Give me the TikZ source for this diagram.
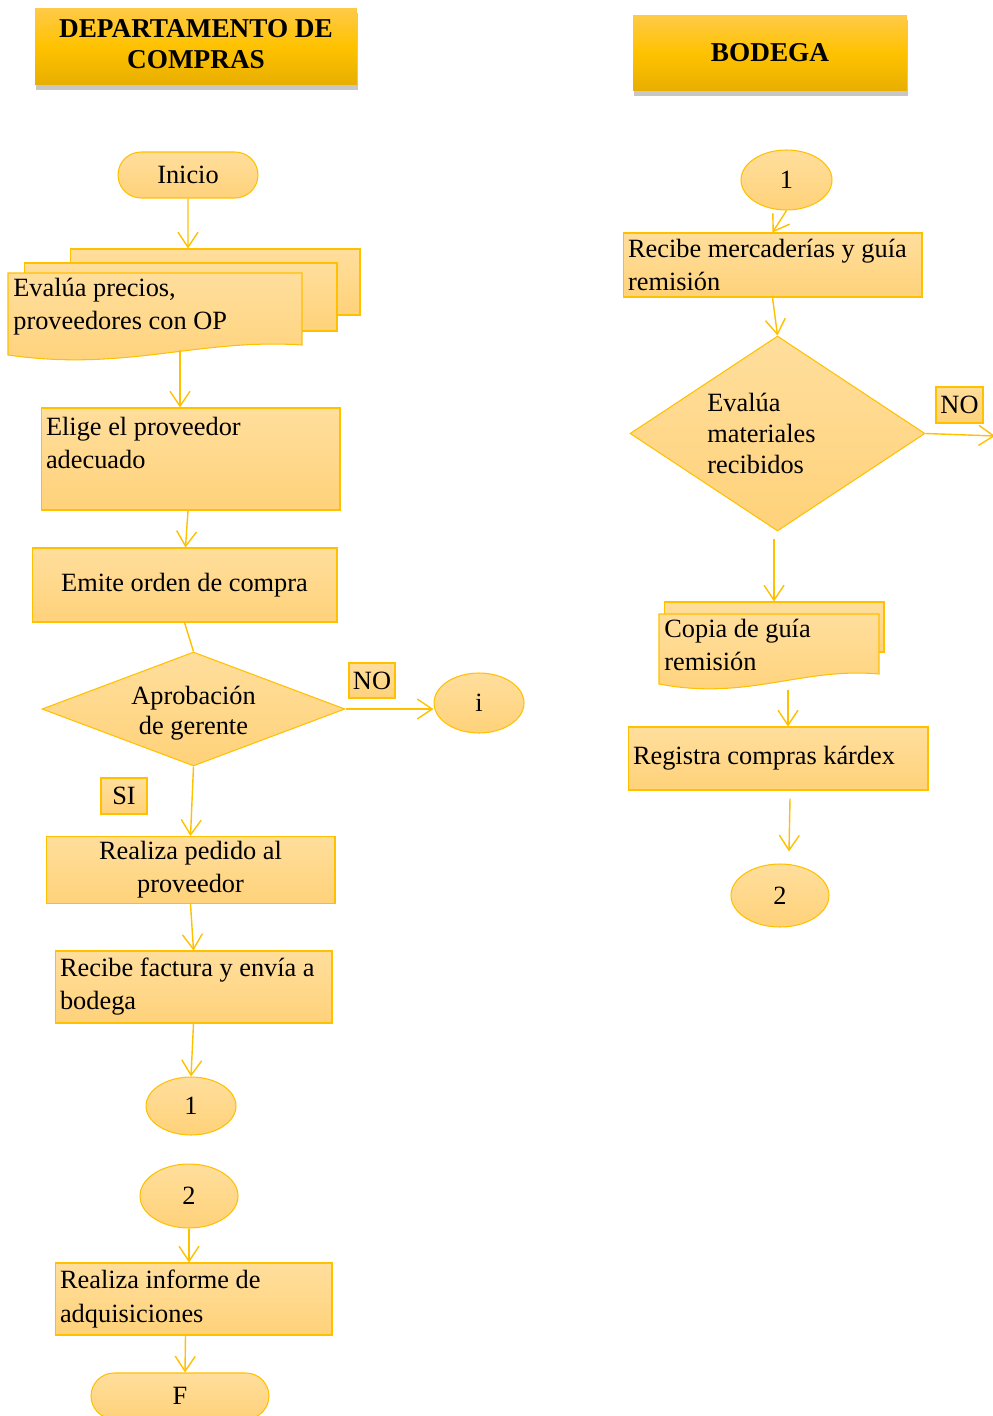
\documentclass[tikz,border=0pt]{standalone}
\usepackage{fontspec}
\setmainfont{Liberation Serif}
\usetikzlibrary{arrows.meta, shapes.geometric, shapes.misc, shadows, positioning}
\definecolor{GoldLine}{RGB}{255,192,0}
\definecolor{BoxTop}{RGB}{255,222,156}
\definecolor{BoxBot}{RGB}{255,210,122}
\definecolor{HeadTop}{RGB}{255,202,72}
\definecolor{HeadMid}{RGB}{255,194,0}
\definecolor{HeadBot}{RGB}{232,174,0}

\newcommand{\docshape}[4]{%
	\pgfmathsetmacro{\dw}{#3-#1}
	\draw[docln] (#1,#2) -- (#3,#2) -- (#3,#4-15)
		.. controls ({#3-0.35*\dw},{#4-22}) and ({#1+0.4*\dw},{#4+12}) .. (#1,#4-5) -- cycle;}

\begin{document}
\begin{tikzpicture}[x=0.02cm, y=-0.02cm, font=\fontsize{15}{18.8}\selectfont,
	hd/.style={rectangle, top color=HeadTop, bottom color=HeadBot, middle color=HeadMid,
		drop shadow={shadow xshift=0.02cm, shadow yshift=-0.1cm, fill=black, opacity=0.22},
		font=\fontsize{15.5}{18.5}\selectfont\bfseries, align=center, inner sep=0pt},
	box/.style={rectangle, draw=GoldLine, line width=0.6pt, top color=BoxTop, bottom color=BoxBot, inner sep=0.1cm},
	term/.style={rounded rectangle, draw=GoldLine, line width=0.6pt, top color=BoxTop, bottom color=BoxBot, inner sep=0pt},
	conn/.style={ellipse, draw=GoldLine, line width=0.6pt, top color=BoxTop, bottom color=BoxBot, inner sep=0pt},
	dec/.style={diamond, draw=GoldLine, line width=0.6pt, top color=BoxTop, bottom color=BoxBot, inner sep=0pt},
	tag/.style={box, inner sep=0pt},
	txt/.style={inner sep=0.1cm, align=left, anchor=north west},
	docln/.style={draw=GoldLine, line width=0.6pt, top color=BoxTop, bottom color=BoxBot},
	ln/.style={draw=GoldLine, line width=0.8pt},
	ar/.style={ln, -{Straight Barb[length=0.3cm, width=0.4cm]}}]
	\useasboundingbox (0,0) rectangle (993,1416);

	\node[hd, minimum width=6.44cm, minimum height=1.54cm] (hcompras) at (196,46.5) {\raisebox{0.26cm}{\begin{tabular}{@{}c@{}}DEPARTAMENTO DE\\[-0.02cm]COMPRAS\end{tabular}}};
	\node[hd, minimum width=5.48cm, minimum height=1.52cm] (hbodega) at (770,53) {BODEGA};

	\node[term, minimum width=2.8cm, minimum height=0.92cm] (inicio) at (188,175) {Inicio};
	\node[box, minimum width=5.8cm, minimum height=1.32cm] (ev3) at (215,282) {};
	\node[box, minimum width=6.26cm, minimum height=1.36cm] (ev2) at (180.5,297) {};
	\docshape{8}{273}{302}{360}
	\node[txt] (evalua) at (8,273) {Evalúa precios,\\proveedores con OP};
	\coordinate (evbot) at (180,350);
	\node[box, minimum width=5.98cm, minimum height=2.04cm, text width=5.78cm, align=justify] (elige) at (190.5,459) {Elige el proveedor\\adecuado\\\mbox{}};
	\node[box, minimum width=6.1cm, minimum height=1.48cm, align=center] (emite) at (184.5,585) {Emite orden de compra};
	\node[dec, minimum width=6.06cm, minimum height=2.28cm,
		label={[align=center, yshift=-0.08cm]center:{Aprobación\\[-0.06cm]de gerente}}] (aprob) at (193.5,709) {};
	\node[tag, minimum width=0.92cm, minimum height=0.7cm] (no1) at (372,680.5) {NO};
	\node[conn, minimum width=1.8cm, minimum height=1.2cm] (ci) at (479,703) {i};
	\node[tag, minimum width=0.92cm, minimum height=0.72cm] (si) at (124,796) {SI};
	\node[box, minimum width=5.78cm, minimum height=1.32cm, align=center] (pedido) at (190.5,870) {Realiza pedido al\\proveedor};
	\node[box, minimum width=5.54cm, minimum height=1.44cm, text width=5.34cm, align=justify] (factura) at (193.5,987) {Recibe factura y envía a\\bodega};
	\node[conn, minimum width=1.8cm, minimum height=1.16cm] (c1) at (191,1106) {1};
	\node[conn, minimum width=1.96cm, minimum height=1.28cm] (c2) at (189,1196) {2};
	\node[box, minimum width=5.54cm, minimum height=1.44cm, text width=5.34cm, align=justify] (informe) at (193.5,1299) {Realiza informe de\\adquisiciones};
	\node[term, minimum width=3.56cm, minimum height=0.92cm] (fin) at (180,1396) {F};

	\draw[ar] (inicio) -- (ev3.north -| inicio);
	\draw[ar] (evbot) -- (elige.north -| evbot);
	\draw[ar] ([xshift=-0.05cm]elige.south) -- ([xshift=0.02cm]emite.north);
	\draw[ln] (emite.south) -- (aprob.north);
	\draw[ar] (aprob.east) -- (ci.west |- aprob.east);
	\draw[ar] (aprob.south) -- (pedido.north);
	\draw[ar] (pedido.south) -- (factura.north);
	\draw[ar] (factura.south) -- (c1.north);
	\draw[ar] (c2.south) -- (informe.north -| c2);
	\draw[ar] ([xshift=-0.16cm]informe.south) -- ([xshift=0.1cm]fin.north);

	\node[conn, minimum width=1.82cm, minimum height=1.2cm] (rc1) at (786.5,180) {1};
	\node[box, minimum width=5.98cm, minimum height=1.28cm, text width=5.78cm, align=justify] (recibe) at (772.5,265) {Recibe mercaderías y guía\\remisión};
	\node[dec, minimum width=5.9cm, minimum height=3.9cm,
		label={[align=left, xshift=-0.32cm]center:{Evalúa\\[-0.04cm]materiales\\[-0.04cm]recibidos}}] (evm) at (777.5,433.5) {};
	\node[tag, minimum width=0.94cm, minimum height=0.72cm] (no2) at (959.5,405) {NO};
	\coordinate (noend) at (995,436);
	\node[box, minimum width=4.4cm, minimum height=1.0cm] (cp2) at (774,627) {};
	\docshape{659}{614}{879}{689}
	\node[txt] (copia) at (659,614) {Copia de guía\\remisión};
	\coordinate (cpbot) at (788,690);
	\node[box, minimum width=6.0cm, minimum height=1.26cm, text width=5.8cm, align=justify] (registra) at (778,758.5) {Registra compras kárdex};
	\node[conn, minimum width=1.96cm, minimum height=1.26cm] (rc2) at (780,895.5) {2};

	\draw[ar] (rc1.south) -- (recibe.north);
	\draw[ar] (recibe.south) -- (evm.north);
	\draw[ar] (evm.east) -- (noend);
	\draw[ar] ([yshift=-0.14cm]cp2.north |- evm.south) -- (cp2.north);
	\draw[ar] (cpbot) -- (registra.north -| cpbot);
	\draw[ar] ([xshift=0.24cm, yshift=-0.16cm]registra.south) -- ([xshift=0.18cm, yshift=0.24cm]rc2.north);
\end{tikzpicture}
\end{document}
